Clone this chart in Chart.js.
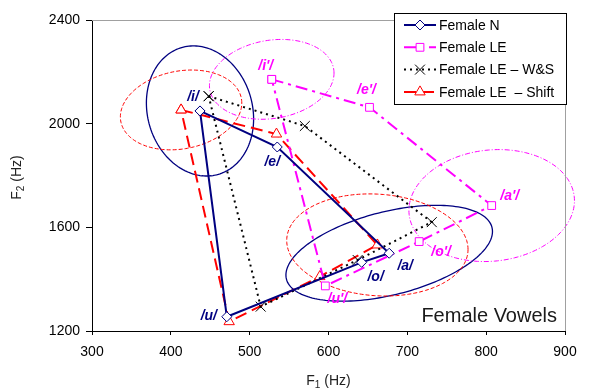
<!DOCTYPE html>
<html>
<head>
<meta charset="utf-8">
<title>Female Vowels</title>
<script src="https://cdn.jsdelivr.net/npm/chart.js@4.4.1/dist/chart.umd.min.js"></script>
<style>
  html, body { margin: 0; padding: 0; background: #fff; }
  canvas { display: block; }
</style>
</head>
<body>
<canvas id="vowelChart" width="590" height="390"></canvas>
<script>
// Formant means (Hz) for /i/ /e/ /a/ /o/ /u/
const vowels = ["/i/", "/e/", "/a/", "/o/", "/u/"];
const leVowels = ["/i'/", "/e'/", "/a'/", "/o'/", "/u'/"];

const normalF1 = [437, 535, 677, 642, 471];
const normalF2 = [2049, 1910, 1500, 1465, 1255];
const leF1 = [528, 652, 807, 715, 596];
const leF2 = [2171, 2063, 1684, 1545, 1374];
const wsF1 = [448, 570, 731, 637, 514];
const wsF2 = [2106, 1991, 1620, 1474, 1294];
const shiftF1 = [413, 534, 662, 589, 474];
const shiftF2 = [2053, 1960, 1532, 1410, 1236];

const xTicks = [300, 400, 500, 600, 700, 800, 900];
const yTicks = [1200, 1600, 2000, 2400];

// spread ellipses around /i/ and /a/ (half-ranges in Hz, tilt as phase in degrees)
const spreadVowels = [0, 2];
const normalSpreadF1 = [68, 131];
const normalSpreadF2 = [251, 185];
const normalTilt = [-7, 27];
const leSpreadF1 = [79, 105];
const leSpreadF2 = [154, 216];
const leTilt = [9, 5];
const shiftSpreadF1 = [77, 115];
const shiftSpreadF2 = [154, 197];
const shiftTilt = [10, -5];

const FONT = "'Liberation Sans', Arial, sans-serif";
const NAVY = "#000080";
const MAGENTA = "#ff00ff";
const RED = "#ff0000";

function loop(f1, f2) {
  const pts = f1.map((x, i) => ({ x: x, y: f2[i] }));
  pts.push(pts[0]);
  return pts;
}

const ellipses = [
  { f1: normalF1, f2: normalF2, rx: normalSpreadF1, ry: normalSpreadF2, tilt: normalTilt, color: NAVY, dash: [], width: 1.3 },
  { f1: leF1, f2: leF2, rx: leSpreadF1, ry: leSpreadF2, tilt: leTilt, color: MAGENTA, dash: [5, 2, 1, 2], width: 1 },
  { f1: shiftF1, f2: shiftF2, rx: shiftSpreadF1, ry: shiftSpreadF2, tilt: shiftTilt, color: RED, dash: [4, 2], width: 1 }
];

// vowel labels, pixel offsets from their point
const labelSets = [
  { f1: normalF1, f2: normalF2, names: vowels, color: NAVY,
    offsets: [[-7, -14], [-5, 15], [16, 13], [14, 15], [-18, -1]] },
  { f1: leF1, f2: leF2, names: leVowels, color: MAGENTA,
    offsets: [[-6, -13], [-3, -17], [18, -9], [22, 11], [12, 13]] }
];

const spreadPlugin = {
  id: "spread",
  beforeDatasetsDraw(chart) {
    const { ctx, scales: { x, y } } = chart;
    ctx.save();
    ellipses.forEach(e => {
      ctx.strokeStyle = e.color;
      ctx.lineWidth = e.width;
      ctx.setLineDash(e.dash);
      spreadVowels.forEach((v, k) => {
        const phase = e.tilt[k] * Math.PI / 180;
        ctx.beginPath();
        for (let s = 0; s <= 180; s++) {
          const t = s / 180 * Math.PI * 2;
          const px = x.getPixelForValue(e.f1[v] + e.rx[k] * Math.cos(t));
          const py = y.getPixelForValue(e.f2[v] + e.ry[k] * Math.sin(t + phase));
          if (s === 0) ctx.moveTo(px, py); else ctx.lineTo(px, py);
        }
        ctx.closePath();
        ctx.stroke();
      });
    });
    ctx.restore();
  }
};

function drawFormantTitle(ctx, n, cx, cy) {
  const big = "14px " + FONT, small = "10px " + FONT;
  ctx.font = big;
  const wF = ctx.measureText("F").width;
  const wRest = ctx.measureText(" (Hz)").width;
  ctx.font = small;
  const wSub = ctx.measureText(String(n)).width;
  let x = cx - (wF + wSub + wRest) / 2;
  ctx.textAlign = "left";
  ctx.textBaseline = "alphabetic";
  ctx.font = big;
  ctx.fillText("F", x, cy + 5);
  x += wF;
  ctx.font = small;
  ctx.fillText(String(n), x, cy + 8);
  x += wSub;
  ctx.font = big;
  ctx.fillText(" (Hz)", x, cy + 5);
}

const decorPlugin = {
  id: "decor",
  afterDatasetsDraw(chart) {
    const { ctx, chartArea: a, scales: { x, y } } = chart;
    ctx.save();

    // vowel labels
    ctx.font = "bold italic 14px " + FONT;
    ctx.textAlign = "center";
    ctx.textBaseline = "middle";
    labelSets.forEach(set => {
      ctx.fillStyle = set.color;
      set.names.forEach((name, i) => {
        const px = x.getPixelForValue(set.f1[i]) + set.offsets[i][0];
        const py = y.getPixelForValue(set.f2[i]) + set.offsets[i][1];
        ctx.fillText(name, px, py);
      });
    });

    // light frame on top and right
    ctx.strokeStyle = "#a0a0a0";
    ctx.lineWidth = 1;
    ctx.setLineDash([]);
    ctx.beginPath();
    ctx.moveTo(a.left, a.top + 0.5);
    ctx.lineTo(a.right + 0.5, a.top + 0.5);
    ctx.lineTo(a.right + 0.5, a.bottom);
    ctx.stroke();

    // panel caption
    ctx.fillStyle = "#1a1a1a";
    ctx.font = "20px " + FONT;
    ctx.textAlign = "right";
    ctx.textBaseline = "middle";
    ctx.fillText("Female Vowels", a.right - 8, a.bottom - 15);

    // axis titles
    ctx.fillStyle = "#222";
    drawFormantTitle(ctx, 1, (a.left + a.right) / 2, 380);
    ctx.save();
    ctx.translate(21, (a.top + a.bottom) / 2 + 2);
    ctx.rotate(-Math.PI / 2);
    drawFormantTitle(ctx, 2, 0, -5);
    ctx.restore();

    // legend box
    const lx = 394, ly = 13, lw = 172, lh = 91;
    ctx.fillStyle = "#fff";
    ctx.fillRect(lx, ly, lw, lh);
    ctx.strokeStyle = "#000";
    ctx.lineWidth = 1;
    ctx.strokeRect(lx + 0.5, ly + 0.5, lw, lh);
    chart.data.datasets.forEach((ds, i) => {
      const ry = ly + 12 + i * 22.3;
      ctx.strokeStyle = ds.borderColor;
      ctx.lineWidth = ds.borderWidth;
      ctx.setLineDash(ds.borderDash);
      ctx.beginPath();
      ctx.moveTo(lx + 10, ry);
      ctx.lineTo(lx + 42, ry);
      ctx.stroke();
      ctx.setLineDash([]);
      ctx.lineWidth = ds.pointBorderWidth;
      ctx.fillStyle = "#fff";
      Chart.helpers.drawPoint(ctx, {
        pointStyle: ds.pointStyle, radius: ds.pointRadius, borderWidth: ds.pointBorderWidth, rotation: 0
      }, lx + 26, ry);
      ctx.fillStyle = "#000";
      ctx.font = "14px " + FONT;
      ctx.textAlign = "left";
      ctx.textBaseline = "middle";
      ctx.fillText(ds.label, lx + 45, ry + 1);
    });
    ctx.restore();
  }
};

new Chart(document.getElementById("vowelChart"), {
  type: "scatter",
  data: {
    datasets: [
      {
        label: "Female N",
        data: loop(normalF1, normalF2),
        showLine: true, borderColor: NAVY, borderWidth: 2, borderDash: [],
        pointStyle: "rectRot", pointRadius: 5, pointBorderWidth: 1,
        pointBorderColor: NAVY, pointBackgroundColor: "#fff"
      },
      {
        label: "Female LE",
        data: loop(leF1, leF2),
        showLine: true, borderColor: MAGENTA, borderWidth: 2, borderDash: [12, 5, 3, 5],
        pointStyle: "rect", pointRadius: 5.5, pointBorderWidth: 1,
        pointBorderColor: MAGENTA, pointBackgroundColor: "#fff"
      },
      {
        label: "Female LE \u2013 W&S",
        data: loop(wsF1, wsF2),
        showLine: true, borderColor: "#000", borderWidth: 2, borderDash: [2, 4],
        pointStyle: "crossRot", pointRadius: 7, pointBorderWidth: 1,
        pointBorderColor: "#000", pointBackgroundColor: "#fff"
      },
      {
        label: "Female LE  \u2013 Shift",
        data: loop(shiftF1, shiftF2),
        showLine: true, borderColor: RED, borderWidth: 2, borderDash: [12, 6],
        pointStyle: "triangle", pointRadius: 6, pointBorderWidth: 1,
        pointBorderColor: RED, pointBackgroundColor: "#fff"
      }
    ]
  },
  options: {
    responsive: false,
    animation: false,
    devicePixelRatio: 1,
    layout: { padding: { left: 0, right: 25, top: 20, bottom: 0 } },
    elements: { line: { tension: 0 } },
    plugins: {
      legend: { display: false },
      tooltip: { enabled: false }
    },
    scales: {
      x: {
        type: "linear", min: 300, max: 900,
        afterBuildTicks: s => { s.ticks = xTicks.map(v => ({ value: v })); },
        afterFit: s => { s.height = 59; },
        ticks: { font: { family: FONT, size: 14 }, color: "#000", padding: 9, maxRotation: 0, callback: v => String(v) },
        grid: { drawOnChartArea: false, drawTicks: true, tickLength: 4, color: "#000" },
        border: { color: "#000", width: 1 }
      },
      y: {
        type: "linear", min: 1200, max: 2400,
        afterBuildTicks: s => { s.ticks = yTicks.map(v => ({ value: v })); },
        afterFit: s => { s.width = 92; },
        ticks: { font: { family: FONT, size: 14 }, color: "#000", padding: 6, callback: v => String(v) },
        grid: { drawOnChartArea: false, drawTicks: true, tickLength: 6, color: "#000" },
        border: { color: "#000", width: 1 }
      }
    }
  },
  plugins: [spreadPlugin, decorPlugin]
});
</script>
</body>
</html>
